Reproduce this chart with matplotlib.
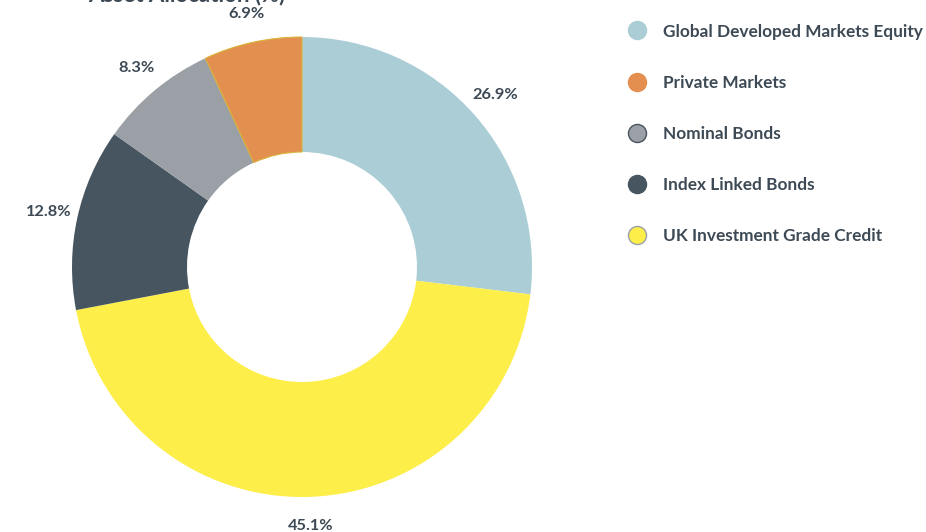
import matplotlib
matplotlib.use("Agg")
import matplotlib.pyplot as plt
from matplotlib.lines import Line2D

# Data (clockwise from 12 o'clock)
categories = ["Global Developed Markets Equity", "UK Investment Grade Credit",
              "Index Linked Bonds", "Nominal Bonds", "Private Markets"]
values = [26.9, 45.1, 12.8, 8.3, 6.9]
colors = ["#aacdd6", "#fdee4a", "#46555f", "#9aa0a6", "#e38f4f"]
legend_order = ["Global Developed Markets Equity", "Private Markets",
                "Nominal Bonds", "Index Linked Bonds", "UK Investment Grade Credit"]
legend_edges = {"Global Developed Markets Equity": "#aacdd6",
                "Private Markets": "#e38f4f",
                "Nominal Bonds": "#46555f",
                "Index Linked Bonds": "#46555f",
                "UK Investment Grade Credit": "#9aa0a6"}
title = "Asset Allocation (%)"

plt.rcParams['font.family'] = ['Lato', 'DejaVu Sans']
text_color = "#3d4a55"

W, H = 926, 532
fig = plt.figure(figsize=(W / 100, H / 100), dpi=100)
cx, cy, R = 302, 267, 230
ax = fig.add_axes([(cx - R) / W, (H - cy - R) / H, 2 * R / W, 2 * R / H])

wedges, texts, autotexts = ax.pie(
    values, colors=colors, startangle=90, counterclock=False,
    radius=1.0, wedgeprops=dict(width=0.5, linewidth=0),
    autopct=lambda p: f"{p:.1f}%", pctdistance=1.125,
    textprops=dict(color=text_color, fontsize=11.8, fontweight='bold'))
# thin yellowish edge on the orange slice
wedges[4].set_edgecolor("#d9b43a")
wedges[4].set_linewidth(0.8)
ax.set_xlim(-1, 1)
ax.set_ylim(-1, 1)
ax.set_aspect('equal')
ax.axis('off')

# Title (cropped at top in reference)
fig.text(88 / W, 1 - 1.5 / H, title, ha='left', va='baseline',
         fontsize=16, fontweight='bold', color=text_color)

handles = []
for name in legend_order:
    c = colors[categories.index(name)]
    handles.append(Line2D([], [], linestyle='none', marker='o', markersize=13,
                          markerfacecolor=c, markeredgecolor=legend_edges[name],
                          markeredgewidth=1.0))
leg = fig.legend(handles, legend_order, loc='upper left',
                 bbox_to_anchor=(613 / W, 1 - 8 / H), frameon=False,
                 labelspacing=2.04, handletextpad=1.0, handlelength=1.0,
                 prop=dict(size=12.4, weight='bold'))
for t in leg.get_texts():
    t.set_color(text_color)

fig.savefig("out.png", dpi=100)
